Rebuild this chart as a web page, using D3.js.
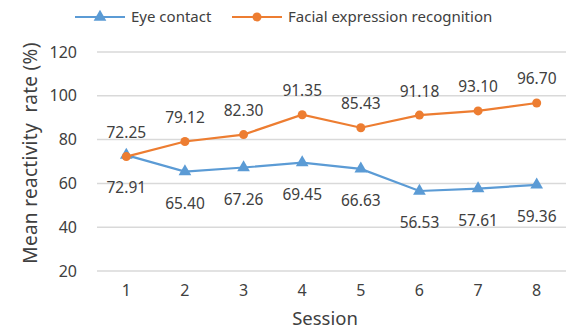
<!DOCTYPE html>
<html>
<head>
<meta charset="utf-8">
<script src="https://cdn.jsdelivr.net/npm/d3@7"></script>
<style>
  body { margin: 0; background: #fff; }
  svg { display: block; font-family: "Noto Sans", sans-serif; }
</style>
</head>
<body>
<div class="chart"></div>
<script>

// data
var sessions = [1, 2, 3, 4, 5, 6, 7, 8];
var eyeContact = [72.91, 65.40, 67.26, 69.45, 66.63, 56.53, 57.61, 59.36];
var facialRecognition = [72.25, 79.12, 82.30, 91.35, 85.43, 91.18, 93.10, 96.70];
var yTicks = [20, 40, 60, 80, 100, 120];

var seriesNames = ["Eye contact", "Facial expression recognition"];
var colors = ["#5B9BD5", "#ED7D31"];

var width = 571, height = 332;
var margin = {top: 52, right: 5, bottom: 61, left: 97};

var svg = d3.select(".chart")
	.append("svg")
	.attr("width", width)
	.attr("height", height);

var x = d3.scaleBand()
	.domain(sessions)
	.range([margin.left, width - margin.right]);

var y = d3.scaleLinear()
	.domain([20, 120])
	.range([height - margin.bottom, margin.top]);

// horizontal grid
svg.append("g")
	.selectAll("line")
	.data(yTicks)
	.join("line")
	.attr("x1", margin.left)
	.attr("x2", width - margin.right)
	.attr("y1", d => y(d))
	.attr("y2", d => y(d))
	.attr("stroke", "#d9d9d9")
	.attr("stroke-width", 1.5);

// y tick labels
svg.append("g")
	.selectAll("text")
	.data(yTicks)
	.join("text")
	.attr("x", 77)
	.attr("y", d => y(d))
	.attr("dy", "0.35em")
	.attr("text-anchor", "end")
	.attr("fill", "#404040")
	.style("font-size", "16px")
	.text(d => d);

// x tick labels
svg.append("g")
	.selectAll("text")
	.data(sessions)
	.join("text")
	.attr("x", d => x(d) + x.bandwidth() / 2)
	.attr("y", 296)
	.attr("text-anchor", "middle")
	.attr("fill", "#404040")
	.style("font-size", "16px")
	.text(d => d);

// axis titles
svg.append("text")
	.attr("x", 325)
	.attr("y", 325)
	.attr("text-anchor", "middle")
	.attr("fill", "#404040")
	.style("font-size", "18.5px")
	.text("Session");

svg.append("text")
	.attr("transform", "translate(30," + 153 + ") rotate(-90)")
	.attr("dy", "0.35em")
	.attr("text-anchor", "middle")
	.attr("fill", "#404040")
	.style("font-size", "19px")
	.style("letter-spacing", "0.3px")
	.style("white-space", "pre")
	.text("Mean reactivity  rate (%)");

var line = d3.line()
	.x((d, i) => x(sessions[i]) + x.bandwidth() / 2)
	.y(d => y(d));

var triangle = d3.symbol().type(d3.symbolTriangle).size(70);

// eye contact
svg.append("path")
	.datum(eyeContact)
	.attr("fill", "none")
	.attr("stroke", colors[0])
	.attr("stroke-width", 2.2)
	.attr("d", line);

svg.append("g")
	.selectAll("path")
	.data(eyeContact)
	.join("path")
	.attr("d", triangle)
	.attr("transform", (d, i) => "translate(" + (x(sessions[i]) + x.bandwidth() / 2) + "," + y(d) + ")")
	.attr("fill", colors[0]);

// facial expression recognition
svg.append("path")
	.datum(facialRecognition)
	.attr("fill", "none")
	.attr("stroke", colors[1])
	.attr("stroke-width", 2.2)
	.attr("d", line);

svg.append("g")
	.selectAll("circle")
	.data(facialRecognition)
	.join("circle")
	.attr("cx", (d, i) => x(sessions[i]) + x.bandwidth() / 2)
	.attr("cy", d => y(d))
	.attr("r", 4.5)
	.attr("fill", colors[1]);

// data labels: facial above, eye contact below
svg.append("g")
	.selectAll("text")
	.data(facialRecognition)
	.join("text")
	.attr("x", (d, i) => x(sessions[i]) + x.bandwidth() / 2)
	.attr("y", d => y(d) - 24)
	.attr("dy", "0.35em")
	.attr("text-anchor", "middle")
	.attr("fill", "#404040")
	.style("font-size", "15.5px")
	.text(d => d.toFixed(2));

svg.append("g")
	.selectAll("text")
	.data(eyeContact)
	.join("text")
	.attr("x", (d, i) => x(sessions[i]) + x.bandwidth() / 2)
	.attr("y", d => y(d) + 32)
	.attr("dy", "0.35em")
	.attr("text-anchor", "middle")
	.attr("fill", "#404040")
	.style("font-size", "15.5px")
	.text(d => d.toFixed(2));

// legend
var legend = svg.append("g");
var legendX = [75, 232];

seriesNames.forEach(function(name, i) {
	var g = legend.append("g").attr("transform", "translate(" + legendX[i] + ",17)");
	g.append("line")
		.attr("x1", 0).attr("x2", 50)
		.attr("stroke", colors[i])
		.attr("stroke-width", 2.2);
	if (i === 0) {
		g.append("path")
			.attr("d", triangle)
			.attr("transform", "translate(25,0)")
			.attr("fill", colors[i]);
	} else {
		g.append("circle")
			.attr("cx", 25)
			.attr("r", 4.5)
			.attr("fill", colors[i]);
	}
	g.append("text")
		.attr("x", 56)
		.attr("dy", "0.35em")
		.attr("fill", "#404040")
		.style("font-size", "15px")
		.text(name);
});

</script>
</body>
</html>
